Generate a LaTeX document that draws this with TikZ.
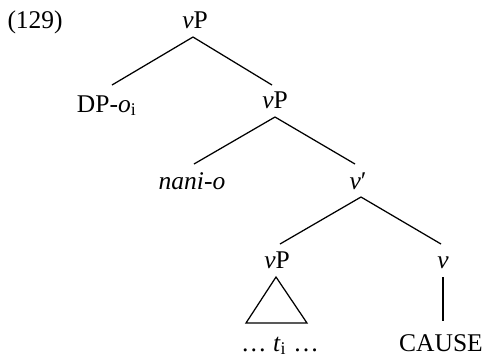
\documentclass[tikz,border=0pt]{standalone}
\usepackage{fontspec}
\setmainfont{Liberation Serif}
\usetikzlibrary{calc}
\begin{document}
\begin{tikzpicture}[x=0.4pt,y=-0.4pt,
  lab/.style={inner sep=0pt, text height=6.6pt, text depth=0pt, anchor=base, font=\fontsize{10.2}{12}\selectfont},
  edge/.style={line width=0.5pt}]
\useasboundingbox (0,0) rectangle (487,356);
\node[lab, anchor=base west] (num) at (7,28) {(129)};
\node[lab] (vp1) at (195,28) {\textit{v}P};
\node[lab] (dp) at (107,112) {DP-\textit{o}\textsubscript{i}};
\node[lab] (vp2) at (275,108) {\textit{v}P};
\node[lab] (nani) at (192,189) {\textit{nani-o}};
\node[lab] (vbar) at (358,189) {\textit{v}′};
\node[lab] (vp3) at (277,268) {\textit{v}P};
\node[lab] (v) at (443,268) {\textit{v}};
\node[lab] (ti) at (280,351) {… \textit{t}\textsubscript{i} …};
\node[lab] (cause) at (441,351) {CAUSE};
\draw[edge] ($(vp1.base)+(-2,9)$) -- ($(dp.base)+(5,-27)$);
\draw[edge] ($(vp1.base)+(-2,9)$) -- ($(vp2.base)+(-3,-23)$);
\draw[edge] ($(vp2.base)+(0,9)$) -- ($(nani.base)+(2,-25)$);
\draw[edge] ($(vp2.base)+(0,9)$) -- ($(vbar.base)+(-3,-25)$);
\draw[edge] ($(vbar.base)+(3,8)$) -- ($(vp3.base)+(3,-24)$);
\draw[edge] ($(vbar.base)+(3,8)$) -- ($(v.base)+(-2,-24)$);
\draw[edge] ($(vp3.base)+(-1,9)$) -- ($(ti.base)+(-34,-28)$) -- ($(ti.base)+(27,-28)$) -- cycle;
\draw[edge] ($(v.base)+(0,9)$) -- ($(cause.base)+(2,-30)$);
\end{tikzpicture}
\end{document}
